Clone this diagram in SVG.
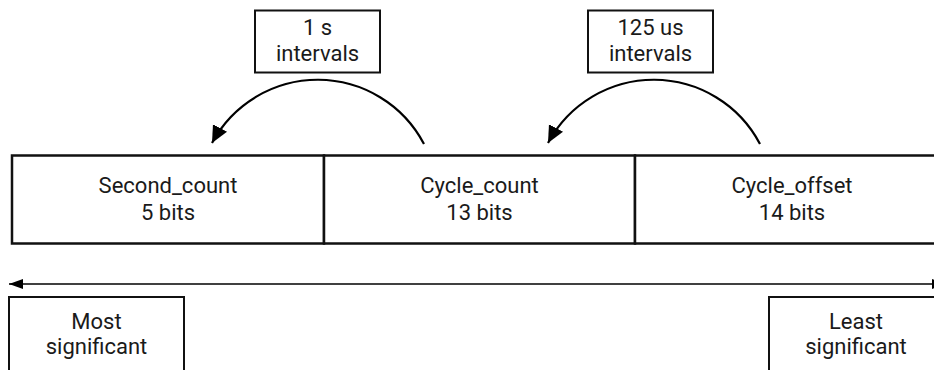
<svg xmlns="http://www.w3.org/2000/svg" width="934" height="370" viewBox="0 0 934 370">
<style>
text{font-family:Roboto,"Liberation Sans",sans-serif;font-size:22px;fill:#1a1a1a;text-anchor:middle}
.box{fill:#fff;stroke:#111;stroke-width:2}
.bar{fill:#fff;stroke:#111;stroke-width:2.5}
.arc{fill:none;stroke:#000;stroke-width:2.2}
.axis{fill:none;stroke:#000;stroke-width:1.5}
</style>
<defs>
<marker id="ah" markerUnits="userSpaceOnUse" markerWidth="20" markerHeight="20" refX="17" refY="8" orient="auto">
<path d="M0,0 L17,8 L0,16 Z" fill="#000"/>
</marker>
<marker id="sa" markerUnits="userSpaceOnUse" markerWidth="16" markerHeight="12" refX="14" refY="5" orient="auto-start-reverse">
<path d="M0,0 L14,5 L0,10 Z" fill="#000"/>
</marker>
</defs>
<g id="second_count">
<rect class="bar" x="12" y="155.5" width="312" height="88"/>
<text x="168" y="193">Second_count</text>
<text x="168" y="219.5">5 bits</text>
</g>
<g id="cycle_count">
<rect class="bar" x="324" y="155.5" width="311" height="88"/>
<text x="479.5" y="193">Cycle_count</text>
<text x="479.5" y="219.5">13 bits</text>
</g>
<g id="cycle_offset">
<rect class="bar" x="635" y="155.5" width="314" height="88"/>
<text x="792" y="193">Cycle_offset</text>
<text x="792" y="219.5">14 bits</text>
</g>
<g id="interval_1s">
<rect class="box" x="255" y="10.5" width="125" height="62"/>
<text x="317.5" y="34.5">1 s</text>
<text x="317.5" y="61">intervals</text>
</g>
<g id="interval_125us">
<rect class="box" x="588" y="10.5" width="125" height="62"/>
<text x="650.5" y="34.5">125 us</text>
<text x="650.5" y="61">intervals</text>
</g>
<g id="most_significant">
<rect class="box" x="9" y="297" width="175" height="80"/>
<text x="96.5" y="329">Most</text>
<text x="96.5" y="353.5">significant</text>
</g>
<g id="least_significant">
<rect class="box" x="769" y="297" width="175" height="80"/>
<text x="856" y="329">Least</text>
<text x="856" y="353.5">significant</text>
</g>
<g id="connectors">
<path class="arc" d="M424,144 A120,120 0 0 0 212,143" marker-end="url(#ah)"/>
<path class="arc" d="M760,144 A120,120 0 0 0 548,143" marker-end="url(#ah)"/>
<path class="axis" d="M9,284 L946,284" marker-start="url(#sa)" marker-end="url(#sa)"/>
</g>
</svg>
